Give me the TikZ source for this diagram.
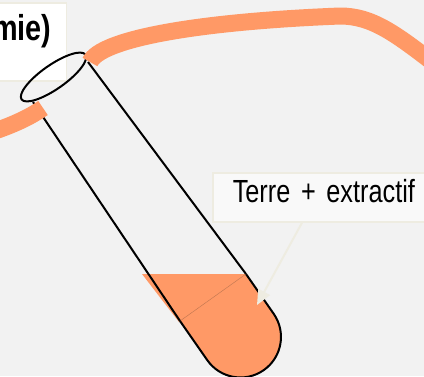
\documentclass[tikz,border=0pt]{standalone}
\usepackage{fontspec}
\setmainfont{Liberation Sans}
\newfontfamily\narrowsans[FakeStretch=0.79]{Liberation Sans}
\newfontfamily\narrowbold[FakeStretch=0.8]{Liberation Sans Bold}
\usepackage{xcolor}
\usepackage{tikz}
\usetikzlibrary{arrows.meta,calc}
\definecolor{bggray}{RGB}{242,242,242}
\definecolor{soilorange}{RGB}{255,153,102}
\definecolor{tanline}{RGB}{238,236,225}
\definecolor{boxwhite}{RGB}{249,249,249}
\tikzset{
  tubeline/.style={
    line width=2pt,
    black
  },
  pipe/.style={
    line width=17pt,
    soilorange,
    line cap=butt
  },
  notebox/.style={
    rectangle,
    draw=tanline,
    line width=1.5pt,
    fill=white,
    inner ysep=0pt,
    inner xsep=15pt,
    font=\narrowbold\fontsize{36}{42}\selectfont
  },
  labelbox/.style={
    rectangle,
    draw=tanline,
    line width=1.5pt,
    fill=boxwhite,
    inner xsep=20pt,
    inner ysep=0pt,
    font=\narrowsans\fontsize{32}{38}\selectfont
  },
  callout/.style={-{Triangle[length=15pt,width=13pt]}, line width=2pt, tanline}
}

\begin{document}
\begin{tikzpicture}[x=1pt,y=-1pt]
\useasboundingbox (0,0) rectangle (424,376);
\clip (0,0) rectangle (424,376);
\fill[bggray] (0,0) rectangle (424,376);

\node[notebox, anchor=base east, text width=95pt, align=right, text height=37pt, text depth=41pt] (title) at (67,40) {mie)};
\node[labelbox, anchor=base west, text width=210pt, align=left, text height=29pt, text depth=20pt] (soil) at (212,202) {Terre + extractif};

% liquid level and rounded bottom of the tube
\coordinate (cupL) at (180,321);
\coordinate (cupR) at (246,274);
\coordinate (rimL) at (33,102);
\coordinate (rimR) at (88,62);
\fill[soilorange] (142,274) -- (cupR) -- (179,322) -- cycle;
\fill[soilorange] (cupL) -- (207.3,360.2) arc[start angle=145, end angle=-35, radius=40.5] -- (cupR) -- cycle;
\draw[tubeline] (cupL) -- (207.3,360.2) arc[start angle=145, end angle=-35, radius=40.5] -- (cupR);
\draw[soilorange!75!black, line width=0.4pt] (cupL) -- (cupR);
\draw[tubeline] (rimL) -- (cupL);
\draw[tubeline] (rimR) -- (cupR);
\draw[tubeline, rotate around={35:(53.5,77)}] (53.5,77) ellipse [x radius=39, y radius=12];

\draw[pipe] (-5,131) .. controls (15,124) and (30,117) .. (43,108);
\draw[pipe] (90,62) .. controls (100,40) and (190,22) .. (340,16) .. controls (372,16) and (395,33) .. (440,68);

\coordinate (tip) at (257,305);
\draw[callout] ($(soil.south west)+(90,0)$) -- (tip);
\end{tikzpicture}
\end{document}
